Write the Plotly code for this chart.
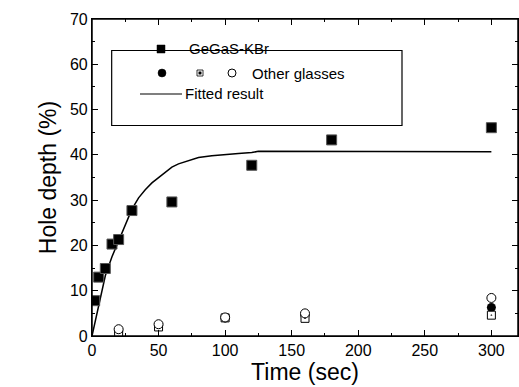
import plotly.graph_objects as go

# GeGaS-KBr data
t_kbr = [2, 5, 10, 15, 20, 30, 60, 120, 180, 300]
d_kbr = [7.8, 13.0, 14.9, 20.3, 21.3, 27.7, 29.6, 37.7, 43.3, 46.0]

# Other glasses
t_other = [20, 50, 100, 160, 300]
d_glass_a = [1.0, 2.3, 4.0, 4.5, 6.3]   # filled circle
d_glass_b = [0.7, 2.0, 4.0, 3.9, 4.6]   # dotted square
d_glass_c = [1.5, 2.6, 4.1, 5.0, 8.4]   # open circle

# Fitted curve
t_fit = [0, 5, 10, 15, 20, 25, 30, 35, 40, 45, 50, 55, 60, 65, 70, 80, 90, 100, 110, 120, 125, 300]
d_fit = [0, 6.8, 13.3, 17.5, 21.0, 24.8, 28.0, 30.5, 32.3, 33.8, 35.0, 36.2, 37.3, 38.0, 38.5, 39.4, 39.8, 40.1, 40.3, 40.5, 40.8, 40.7]

x_range = [0, 320]
y_range = [0, 70]

FONT = "Liberation Sans, Arial, sans-serif"

fig = go.Figure()
fig.add_trace(go.Scatter(x=t_fit, y=d_fit, mode="lines",
                         line=dict(color="black", width=1.5), showlegend=False))
fig.add_trace(go.Scatter(x=t_other, y=d_glass_a, mode="markers",
                         marker=dict(symbol="circle", size=9, color="black"), showlegend=False))
fig.add_trace(go.Scatter(x=t_other, y=d_glass_b, mode="markers",
                         marker=dict(symbol="square-dot", size=8, color="white",
                                     line=dict(color="black", width=1)), showlegend=False))
fig.add_trace(go.Scatter(x=t_other, y=d_glass_c, mode="markers",
                         marker=dict(symbol="circle", size=9, color="white",
                                     line=dict(color="black", width=1)), showlegend=False))
fig.add_trace(go.Scatter(x=t_kbr, y=d_kbr, mode="markers",
                         marker=dict(symbol="square", size=10, color="black",
                                     line=dict(color="#555555", width=1)), showlegend=False))

# Custom legend (paper coordinates)
fig.add_shape(type="rect", xref="paper", yref="paper", x0=0.0462, x1=0.7277, y0=0.9006, y1=0.6640,
              line=dict(color="black", width=1.2), fillcolor="white")

def px2paper(px, py):
    return (px - 92) / (518 - 92), (336 - py) / (336 - 19)

cx, cy = px2paper(161, 49)
w, h = 8 / 426, 8 / 317
fig.add_shape(type="rect", xref="paper", yref="paper", x0=cx - w/2, x1=cx + w/2, y0=cy - h/2, y1=cy + h/2,
              line=dict(color="black", width=0.5), fillcolor="black")
cx, cy = px2paper(162, 73)
fig.add_shape(type="circle", xref="paper", yref="paper", x0=cx - w/2, x1=cx + w/2, y0=cy - h/2, y1=cy + h/2,
              line=dict(color="black", width=0.5), fillcolor="black")
cx, cy = px2paper(200, 73)
w1, h1 = 6 / 426, 6 / 317
fig.add_shape(type="rect", xref="paper", yref="paper", x0=cx - w1/2, x1=cx + w1/2, y0=cy - h1/2, y1=cy + h1/2,
              line=dict(color="black", width=0.8), fillcolor="white")
w2, h2 = 1.2 / 426, 1.2 / 317
fig.add_shape(type="rect", xref="paper", yref="paper", x0=cx - w2, x1=cx + w2, y0=cy - h2, y1=cy + h2,
              line=dict(color="black", width=0.5), fillcolor="black")
cx, cy = px2paper(232, 73)
fig.add_shape(type="circle", xref="paper", yref="paper", x0=cx - w/2, x1=cx + w/2, y0=cy - h/2, y1=cy + h/2,
              line=dict(color="black", width=1), fillcolor="white")
x0p, yp = px2paper(140, 94)
x1p, _ = px2paper(182, 94)
fig.add_shape(type="line", xref="paper", yref="paper", x0=x0p, x1=x1p, y0=yp, y1=yp,
              line=dict(color="black", width=1.2))

for txt, px, py in [("GeGaS-KBr", 187, 49), ("Other glasses", 250, 73), ("Fitted result", 183, 94)]:
    ax_, ay_ = px2paper(px, py)
    fig.add_annotation(text=txt, xref="paper", yref="paper", x=ax_, y=ay_,
                       xanchor="left", yanchor="middle", showarrow=False,
                       font=dict(family=FONT, size=15, color="black"))

# frame around plot area
fig.add_shape(type="rect", xref="paper", yref="paper", x0=0, x1=1, y0=0, y1=1,
              line=dict(color="black", width=1.5), fillcolor="rgba(0,0,0,0)", layer="above")

axis_common = dict(showgrid=False, zeroline=False, showline=True, linecolor="black", linewidth=1.2,
                   mirror="ticks", ticks="inside", tickcolor="black", ticklen=6, tickwidth=1,
                   tickfont=dict(family=FONT, size=16, color="black"))

fig.update_xaxes(range=x_range, tickmode="linear", tick0=0, dtick=50,
                 minor=dict(tickmode="linear", tick0=0, dtick=25, ticks="inside", ticklen=3,
                            tickcolor="black", tickwidth=1),
                 title=dict(text="Time (sec)", font=dict(family=FONT, size=23, color="black"), standoff=2),
                 **axis_common)
fig.update_yaxes(range=y_range, tickmode="linear", tick0=0, dtick=10,
                 minor=dict(tickmode="linear", tick0=0, dtick=5, ticks="inside", ticklen=3,
                            tickcolor="black", tickwidth=1),
                 title=dict(text="Hole depth (%)", font=dict(family=FONT, size=23, color="black"), standoff=6),
                 **axis_common)

fig.update_layout(width=519, height=387, margin=dict(l=92, r=1, t=19, b=51),
                  plot_bgcolor="white", paper_bgcolor="white")

fig.write_html("out.html")
